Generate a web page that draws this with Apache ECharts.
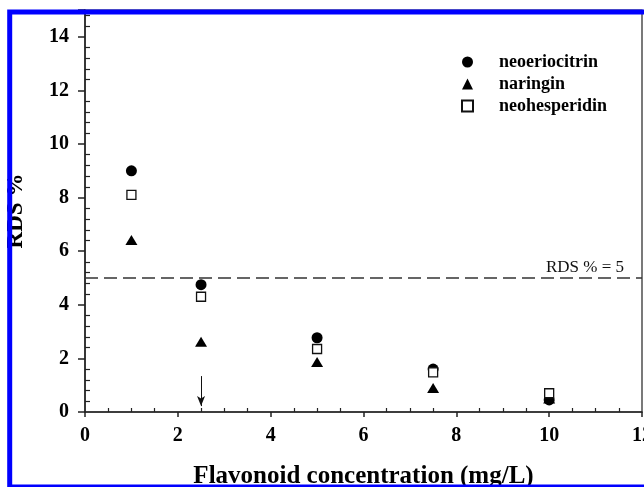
<!DOCTYPE html>
<html>
<head>
<meta charset="utf-8">
<script src="https://cdn.jsdelivr.net/npm/echarts@6/dist/echarts.min.js"></script>
<style>
html,body{margin:0;padding:0;background:#fff;}
#chart{width:644px;height:487px;}
</style>
</head>
<body>
<div id="chart"></div>
<script>
var concentrations = [1, 2.5, 5, 7.5, 10];
var neoeriocitrin = [9.0, 4.75, 2.77, 1.6, 0.45];
var naringin = [6.42, 2.62, 1.87, 0.9, 0.5];
var neohesperidin = [8.1, 4.3, 2.35, 1.48, 0.7];
var thresholdValue = 5;
var thresholdLabel = 'RDS % = 5';
var arrowX = 2.5;
var arrowFromY = 1.34;
var arrowToY = 0.22;
var seriesNames = ['neoeriocitrin', 'naringin', 'neohesperidin'];
var xTitle = 'Flavonoid concentration (mg/L)';
var yTitle = 'RDS %';

function pairs(ys) { return concentrations.map(function (x, i) { return [x, ys[i]]; }); }

var serif = '"Liberation Serif", "Times New Roman", serif';
var axisCol = '#222';

var chart = echarts.init(document.getElementById('chart'), null, {renderer: 'canvas'});
chart.setOption({
  animation: false,
  backgroundColor: '#fff',
  grid: {left: 85, right: 2, top: 10, bottom: 75, containLabel: false, outerBoundsMode: 'none',
    show: true, borderColor: axisCol, borderWidth: 1.2, backgroundColor: 'transparent'},
  legend: {
    orient: 'vertical', left: 456, top: 48, itemWidth: 11, itemHeight: 11, itemGap: 4,
    data: seriesNames,
    textStyle: {fontFamily: serif, fontWeight: 'bold', fontSize: 18, color: '#000', padding: [0, 0, 0, 21]}
  },
  xAxis: {
    type: 'value', min: 0, max: 12, interval: 2,
    name: xTitle, nameLocation: 'middle', nameGap: 52,
    nameTextStyle: {fontFamily: serif, fontWeight: 'bold', fontSize: 25, color: '#000'},
    axisLine: {show: true, onZero: false, lineStyle: {color: axisCol, width: 1.5}},
    axisTick: {show: true, inside: false, length: 5, lineStyle: {color: axisCol, width: 1.5}},
    minorTick: {show: true, splitNumber: 4, length: -4, lineStyle: {color: axisCol, width: 1.2}},
    axisLabel: {fontFamily: serif, fontWeight: 'bold', fontSize: 20, color: '#000', margin: 14,
      formatter: function (v) { return v; }},
    splitLine: {show: false}
  },
  yAxis: {
    type: 'value', min: 0, max: 15, interval: 2,
    name: yTitle, nameLocation: 'middle', nameGap: 57, nameRotate: 90,
    nameTextStyle: {fontFamily: serif, fontWeight: 'bold', fontSize: 23, color: '#000'},
    axisLine: {show: true, onZero: false, lineStyle: {color: axisCol, width: 1.5}},
    axisTick: {show: true, inside: false, length: 7, lineStyle: {color: axisCol, width: 1.5}},
    minorTick: {show: true, splitNumber: 5, length: -5, lineStyle: {color: axisCol, width: 1.2}},
    axisLabel: {fontFamily: serif, fontWeight: 'bold', fontSize: 20, color: '#000', margin: 16,
      formatter: function (v) { return v > 14 ? '' : v; }},
    splitLine: {show: false}
  },
  series: [
    {
      name: seriesNames[0], type: 'scatter', data: pairs(neoeriocitrin),
      symbol: 'circle', symbolSize: 11, itemStyle: {color: '#000', opacity: 1},
      markLine: {
        silent: true, symbol: 'none',
        lineStyle: {type: [13, 6], color: '#333', width: 1.5},
        label: {show: true, position: 'insideEndTop', formatter: thresholdLabel, distance: [18, 2],
          fontFamily: serif, fontSize: 17, color: '#111'},
        data: [{yAxis: thresholdValue}]
      },
      z: 3
    },
    {
      name: seriesNames[1], type: 'scatter', data: pairs(naringin),
      symbol: 'triangle', symbolSize: [12, 10], itemStyle: {color: '#000', opacity: 1},
      markLine: {
        silent: true, symbol: ['none', 'arrow'], symbolSize: [6, 10],
        lineStyle: {type: 'solid', color: '#111', width: 1},
        label: {show: false},
        data: [[{coord: [arrowX, arrowFromY]}, {coord: [arrowX, arrowToY]}]]
      },
      z: 4
    },
    {
      name: seriesNames[2], type: 'scatter', data: pairs(neohesperidin),
      symbol: 'rect', symbolSize: 9,
      itemStyle: {color: '#fff', borderColor: '#111', borderWidth: 1.3, opacity: 1},
      z: 5
    }
  ],
  graphic: [{
    type: 'rect', z: 100, silent: true,
    shape: {x: 9.7, y: 12, width: 700, height: 475},
    style: {fill: 'none', stroke: '#0000ff', lineWidth: 5}
  }]
});
</script>
</body>
</html>
